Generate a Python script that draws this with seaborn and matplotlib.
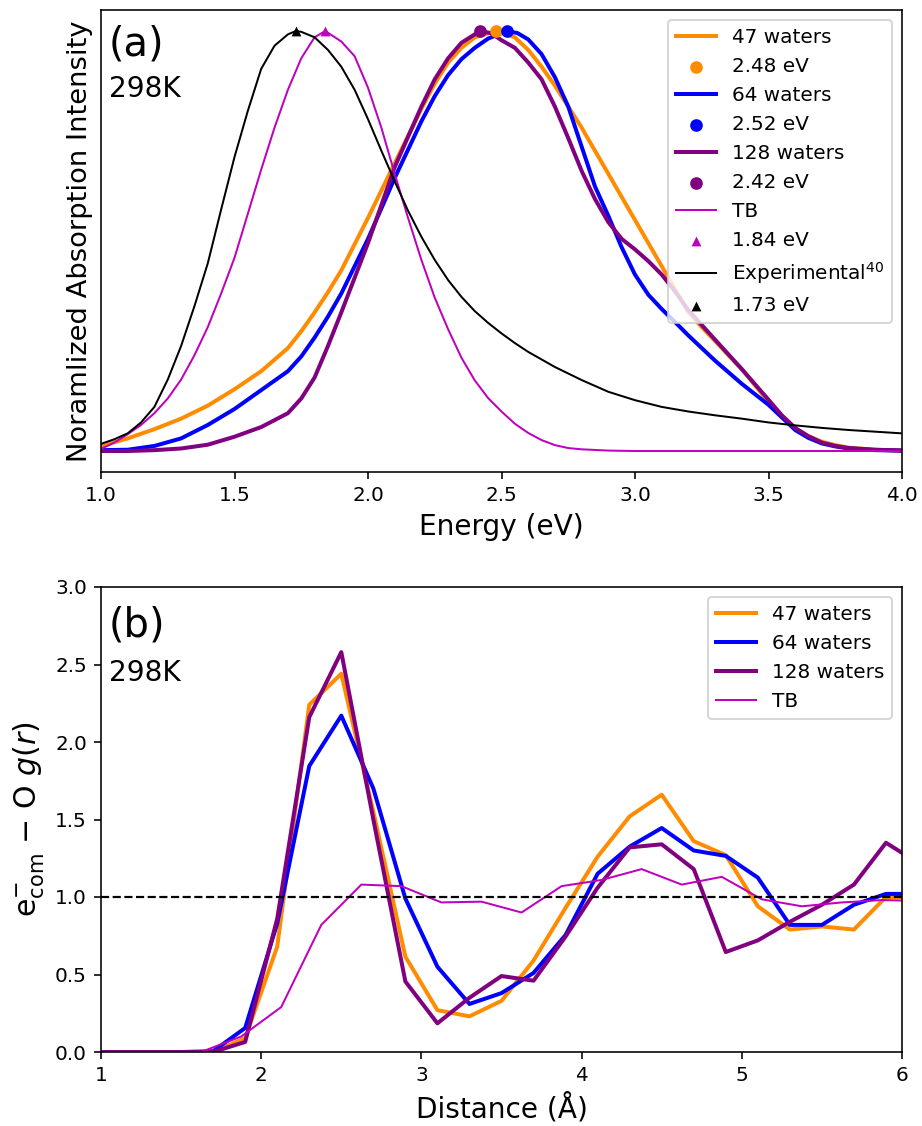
import numpy as np
import pandas as pd
import matplotlib
matplotlib.use("Agg")
import matplotlib.pyplot as plt
import seaborn as sns

# ---------------- Panel (a): absorption spectra ----------------
e_47 = [1.0, 1.1, 1.2, 1.3, 1.4, 1.5, 1.6, 1.7, 1.75, 1.8, 1.85, 1.9, 2.0, 2.1, 2.2, 2.25, 2.3, 2.35,
        2.4, 2.48, 2.55, 2.6, 2.65, 2.7, 2.8, 2.9, 3.0, 3.1, 3.2, 3.25, 3.3, 3.35, 3.4, 3.45, 3.5,
        3.55, 3.6, 3.65, 3.7, 3.75, 3.8, 3.9, 4.0]
i_47 = [0.012, 0.03, 0.052, 0.077, 0.108, 0.147, 0.19, 0.245, 0.285, 0.33, 0.378, 0.43, 0.555, 0.685,
        0.815, 0.875, 0.925, 0.96, 0.985, 1.0, 0.985, 0.955, 0.915, 0.87, 0.77, 0.66, 0.55, 0.44, 0.33,
        0.295, 0.262, 0.228, 0.195, 0.156, 0.117, 0.083, 0.052, 0.035, 0.022, 0.014, 0.008, 0.003, 0.001]

e_64 = [1.0, 1.1, 1.2, 1.3, 1.4, 1.5, 1.6, 1.7, 1.75, 1.8, 1.85, 1.9, 2.0, 2.1, 2.2, 2.25, 2.3, 2.35,
        2.4, 2.45, 2.52, 2.56, 2.6, 2.65, 2.7, 2.75, 2.8, 2.85, 2.9, 2.95, 3.0, 3.05, 3.1, 3.15, 3.2,
        3.3, 3.4, 3.5, 3.55, 3.6, 3.65, 3.7, 3.75, 3.8, 3.9, 4.0]
i_64 = [0.002, 0.003, 0.012, 0.03, 0.062, 0.10, 0.145, 0.19, 0.225, 0.27, 0.32, 0.375, 0.505, 0.65,
        0.785, 0.845, 0.895, 0.933, 0.96, 0.982, 1.0, 0.995, 0.98, 0.945, 0.89, 0.82, 0.725, 0.63,
        0.56, 0.485, 0.42, 0.372, 0.338, 0.307, 0.275, 0.215, 0.16, 0.11, 0.08, 0.05, 0.031, 0.018,
        0.011, 0.006, 0.002, 0.001]

e_128 = [1.0, 1.1, 1.2, 1.3, 1.4, 1.5, 1.6, 1.7, 1.75, 1.8, 1.85, 1.9, 2.0, 2.1, 2.2, 2.25, 2.3, 2.35,
         2.42, 2.46, 2.5, 2.55, 2.6, 2.65, 2.7, 2.75, 2.8, 2.85, 2.9, 2.95, 3.0, 3.05, 3.1, 3.15, 3.2,
         3.3, 3.4, 3.5, 3.55, 3.6, 3.65, 3.7, 3.75, 3.8, 3.9, 4.0]
i_128 = [0.0, 0.0, 0.002, 0.006, 0.015, 0.034, 0.057, 0.09, 0.125, 0.175, 0.25, 0.33, 0.495, 0.676,
         0.82, 0.885, 0.935, 0.972, 1.0, 0.995, 0.978, 0.96, 0.925, 0.885, 0.82, 0.745, 0.667, 0.6,
         0.545, 0.505, 0.48, 0.452, 0.42, 0.38, 0.335, 0.265, 0.195, 0.122, 0.085, 0.055, 0.035, 0.02,
         0.012, 0.007, 0.003, 0.001]

e_tb = [1.0, 1.05, 1.1, 1.15, 1.2, 1.25, 1.3, 1.35, 1.4, 1.45, 1.5, 1.55, 1.6, 1.65, 1.7, 1.75, 1.8,
        1.84, 1.9, 1.95, 2.0, 2.05, 2.1, 2.15, 2.2, 2.25, 2.3, 2.35, 2.4, 2.45, 2.5, 2.55, 2.6, 2.65,
        2.7, 2.75, 2.8, 2.9, 3.0, 3.2, 3.4, 3.6, 3.8, 4.0]
i_tb = [0.005, 0.02, 0.04, 0.062, 0.09, 0.125, 0.17, 0.228, 0.295, 0.375, 0.46, 0.565, 0.67, 0.77,
        0.86, 0.935, 0.985, 1.0, 0.975, 0.94, 0.865, 0.77, 0.66, 0.555, 0.455, 0.365, 0.29, 0.222,
        0.168, 0.126, 0.094, 0.065, 0.043, 0.026, 0.014, 0.007, 0.004, 0.001, 0.0, 0.0, 0.0, 0.0, 0.0, 0.0]

e_exp = [1.0, 1.05, 1.1, 1.15, 1.2, 1.25, 1.3, 1.35, 1.4, 1.45, 1.5, 1.55, 1.6, 1.65, 1.7, 1.73, 1.75,
         1.8, 1.85, 1.9, 1.95, 2.0, 2.05, 2.1, 2.15, 2.2, 2.25, 2.3, 2.35, 2.4, 2.45, 2.5, 2.55, 2.6,
         2.7, 2.8, 2.9, 3.0, 3.1, 3.2, 3.3, 3.4, 3.5, 3.6, 3.7, 3.8, 3.9, 4.0]
i_exp = [0.017, 0.028, 0.042, 0.068, 0.105, 0.17, 0.25, 0.345, 0.447, 0.575, 0.70, 0.81, 0.91, 0.965,
         0.992, 1.0, 0.998, 0.985, 0.955, 0.915, 0.86, 0.79, 0.715, 0.642, 0.572, 0.51, 0.455, 0.407,
         0.367, 0.333, 0.305, 0.28, 0.257, 0.236, 0.20, 0.169, 0.141, 0.121, 0.105, 0.094, 0.085,
         0.077, 0.068, 0.061, 0.055, 0.05, 0.046, 0.042]

peak_e = [2.48, 2.52, 2.42, 1.84, 1.73]
peak_labels = ["2.48 eV", "2.52 eV", "2.42 eV", "1.84 eV", "1.73 eV"]
series_labels = ["47 waters", "64 waters", "128 waters", "TB", r"Experimental$^{40}$"]

# ---------------- Panel (b): g(r) ----------------
r_dft = [0.9, 1.1, 1.3, 1.5, 1.7, 1.9, 2.1, 2.3, 2.5, 2.7, 2.9, 3.1, 3.3, 3.5, 3.7, 3.9,
         4.1, 4.3, 4.5, 4.7, 4.9, 5.1, 5.3, 5.5, 5.7, 5.9, 6.1]
g_47 = [0, 0, 0, 0, 0, 0.09, 0.68, 2.24, 2.44, 1.55, 0.615, 0.27, 0.23, 0.33, 0.59, 0.93,
        1.26, 1.52, 1.66, 1.36, 1.27, 0.94, 0.79, 0.81, 0.79, 1.0, 1.0]
g_64 = [0, 0, 0, 0, 0.005, 0.155, 0.83, 1.845, 2.17, 1.70, 0.99, 0.55, 0.31, 0.38, 0.51, 0.755,
        1.15, 1.325, 1.445, 1.30, 1.265, 1.125, 0.82, 0.82, 0.95, 1.02, 1.02]
g_128 = [0, 0, 0, 0, 0, 0.065, 0.86, 2.16, 2.58, 1.50, 0.455, 0.185, 0.35, 0.49, 0.46, 0.745,
         1.06, 1.32, 1.34, 1.18, 0.645, 0.72, 0.84, 0.95, 1.08, 1.35, 1.22]
r_tb = [0.875, 1.125, 1.375, 1.625, 1.875, 2.125, 2.375, 2.625, 2.875, 3.125, 3.375, 3.625,
        3.875, 4.125, 4.375, 4.625, 4.875, 5.125, 5.375, 5.625, 5.875, 6.125]
g_tb = [0, 0, 0, 0.0, 0.10, 0.29, 0.82, 1.08, 1.07, 0.965, 0.97, 0.90,
        1.07, 1.11, 1.18, 1.08, 1.13, 0.985, 0.94, 0.965, 0.98, 0.975]

colors = ["darkorange", "blue", "purple", "m", "k"]

W, H, DPI = 922, 1126, 144
fig = plt.figure(figsize=(W / DPI, H / DPI), dpi=DPI)
plt.rcParams["font.family"] = ["DejaVu Sans"]

def frac(left, top, right, bottom):
    return [left / W, 1 - bottom / H, (right - left) / W, (bottom - top) / H]

ax_a = fig.add_axes(frac(101, 10, 902, 472))
ax_b = fig.add_axes(frac(101, 587, 902, 1052))

# ---- panel (a)
curves = [(e_47, i_47), (e_64, i_64), (e_128, i_128), (e_tb, i_tb), (e_exp, i_exp)]
widths = [2, 2, 2, 1, 1]
markers = ["o", "o", "o", "^", "^"]
msizes = [40, 40, 40, 24, 24]
order = []
for k, ((ex, iy), c, lw, mk, ms) in enumerate(zip(curves, colors, widths, markers, msizes)):
    sns.lineplot(x=ex, y=iy, color=c, lw=lw, label=series_labels[k], ax=ax_a, zorder=2)
    pk_idx = ex.index(peak_e[k])
    sns.scatterplot(x=[peak_e[k]], y=[iy[pk_idx]], color=c, marker=mk, s=ms, linewidth=0,
                    label=peak_labels[k], ax=ax_a, zorder=3)
    order += [series_labels[k], peak_labels[k]]

h, l = ax_a.get_legend_handles_labels()
hmap = dict(zip(l, h))
ax_a.legend([hmap[x] for x in order], order, loc="upper right", fontsize=10)
ax_a.set_xlim(1.0, 4.0)
ax_a.set_yticks([])
ax_a.set_xlabel("Energy (eV)", fontsize=14)
ax_a.set_ylabel("Noramlized Absorption Intensity", fontsize=13.7)
ax_a.text(0.01, 0.968, "(a)", transform=ax_a.transAxes, fontsize=20, va="top", ha="left")
ax_a.text(0.01, 0.86, "298K", transform=ax_a.transAxes, fontsize=14, va="top", ha="left")

# ---- panel (b)
gsets = [(r_dft, g_47), (r_dft, g_64), (r_dft, g_128), (r_tb, g_tb)]
for k, (rx, gy) in enumerate(gsets):
    sns.lineplot(x=rx, y=gy, color=colors[k], lw=widths[k], label=series_labels[k], ax=ax_b)
ax_b.axhline(1.0, color="k", ls="--", lw=1.1)
ax_b.set_xlim(1, 6)
ax_b.set_ylim(0, 3)
ax_b.set_yticks([0, 0.5, 1.0, 1.5, 2.0, 2.5, 3.0])
ax_b.set_xticks([1, 2, 3, 4, 5, 6])
ax_b.legend(loc="upper right", fontsize=10)
ax_b.set_xlabel("Distance (Å)", fontsize=14)
ax_b.set_ylabel(r"e$^{-}_{\mathrm{com}}$ $-$ O $g(r)$", fontsize=15)
ax_b.text(0.01, 0.96, "(b)", transform=ax_b.transAxes, fontsize=20, va="top", ha="left")
ax_b.text(0.01, 0.845, "298K", transform=ax_b.transAxes, fontsize=14, va="top", ha="left")

for ax in (ax_a, ax_b):
    ax.tick_params(labelsize=10)

fig.savefig("out.png", dpi=DPI)
